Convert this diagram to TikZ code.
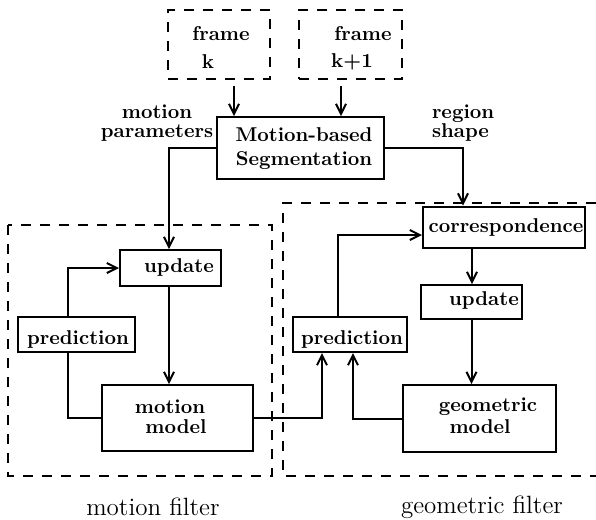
\documentclass[tikz,border=0pt]{standalone}
\usetikzlibrary{arrows.meta}
\begin{document}
\begin{tikzpicture}[x=0.5pt,y=-0.5pt,
  line width=1pt,
  box/.style={draw,line width=1pt,inner sep=0pt},
  dbox/.style={box,dash pattern=on 5pt off 4.5pt},
  dframe/.style={line width=1pt,dash pattern=on 5pt off 4.5pt},
  txt/.style={inner sep=0pt,font=\bfseries},
  captiontxt/.style={inner sep=0pt,font=\fontsize{12.5}{15}\selectfont},
  arr/.style={-{Straight Barb[length=5pt,width=5pt,line width=1pt]}}]
\useasboundingbox (0,0) rectangle (596,520);

% outer filter frames
\draw[dframe] (8,225) rectangle (272,476);
\draw[dframe] (596,203) -- (283,203) -- (283,476) -- (596,476);

% input frames
\node[dbox,minimum width=51pt,minimum height=34.5pt] (frk)  at (219,44.5) {};
\node[dbox,minimum width=51.5pt,minimum height=34.5pt] (frk1) at (350.5,44.5) {};
\node[txt] (tfk1) at (221,34) {frame};
\node[txt] (tfk2) at (208,62) {k};
\node[txt] (tfl1) at (363,34) {frame};
\node[txt] (tfl2) at (352,62) {k+1};

% segmentation
\node[box,minimum width=83.5pt,minimum height=31pt] (seg) at (300.5,148) {};
\node[txt,align=center] (tseg) at (304,149) {Motion-based\\Segmentation};
\node[txt,align=center,font=\bfseries\fontsize{10}{9.5}\selectfont] (tmp) at (157,123) {motion\\parameters};
\node[txt,align=left,anchor=west,font=\bfseries\fontsize{10}{9.5}\selectfont] (trs) at (431,123) {region\\shape};

% motion filter
\node[box,minimum width=50.5pt,minimum height=18pt] (upd1) at (170.5,268) {};
\node[txt] (tupd1) at (179,267) {update};
\node[box,minimum width=75.5pt,minimum height=33pt] (mm) at (177.5,418) {};
\node[txt] (tmm1) at (170,407) {motion};
\node[txt] (tmm2) at (176,427) {model};
\node[box,minimum width=58.5pt,minimum height=17.5pt] (pr1) at (76.5,334.5) {};
\node[txt] (tpr1) at (78,339) {prediction};

% geometric filter
\node[box,minimum width=81pt,minimum height=20.5pt] (corr) at (504,227) {};
\node[txt] (tcorr) at (506,227) {correspondence};
\node[box,minimum width=50.5pt,minimum height=17pt] (upd2) at (471.5,302) {};
\node[txt] (tupd2) at (484,300) {update};
\node[box,minimum width=76.5pt,minimum height=33.5pt] (gm) at (479.5,418.5) {};
\node[txt] (tgm1) at (488,407) {geometric};
\node[txt] (tgm2) at (480,427) {model};
\node[box,minimum width=57pt,minimum height=17.5pt] (pr2) at (350,334.5) {};
\node[txt] (tpr2) at (352,339) {prediction};

% captions
\node[captiontxt] (cmf) at (153,507) {motion filter};
\node[captiontxt] (cgf) at (482,507) {geometric filter};

% connectors
\draw[arr] ([xshift=7.5pt,yshift=-3pt]frk.south) -- ([xshift=7.5pt]frk.south |- seg.north);
\draw[arr] ([xshift=-4.75pt,yshift=-3pt]frk1.south) -- ([xshift=-4.75pt]frk1.south |- seg.north);
\draw[arr] (seg.west) -| ([xshift=-0.75pt]upd1.north);
\draw[arr] (seg.east) -| ([xshift=-20.5pt]corr.north);

\draw[arr] ([xshift=-0.75pt]upd1.south) -- ([xshift=-0.75pt]upd1.south |- mm.north);
\draw[arr] ([xshift=-4.25pt]pr1.north) |- (upd1.west);
\draw ([xshift=-4.25pt]pr1.south) |- (mm.west);
\draw[arr] (mm.east) -| ([xshift=-14pt]pr2.south);

\draw[arr] (gm.west) -| ([xshift=1.5pt]pr2.south);
\draw[arr] ([xshift=-6pt]pr2.north) |- ([yshift=-4pt]corr.west);
\draw[arr] ([xshift=-16pt]corr.south) -- ([xshift=-16pt]corr.south |- upd2.north);
\draw[arr] (upd2.south) -- (upd2.south |- gm.north);
\end{tikzpicture}
\end{document}
